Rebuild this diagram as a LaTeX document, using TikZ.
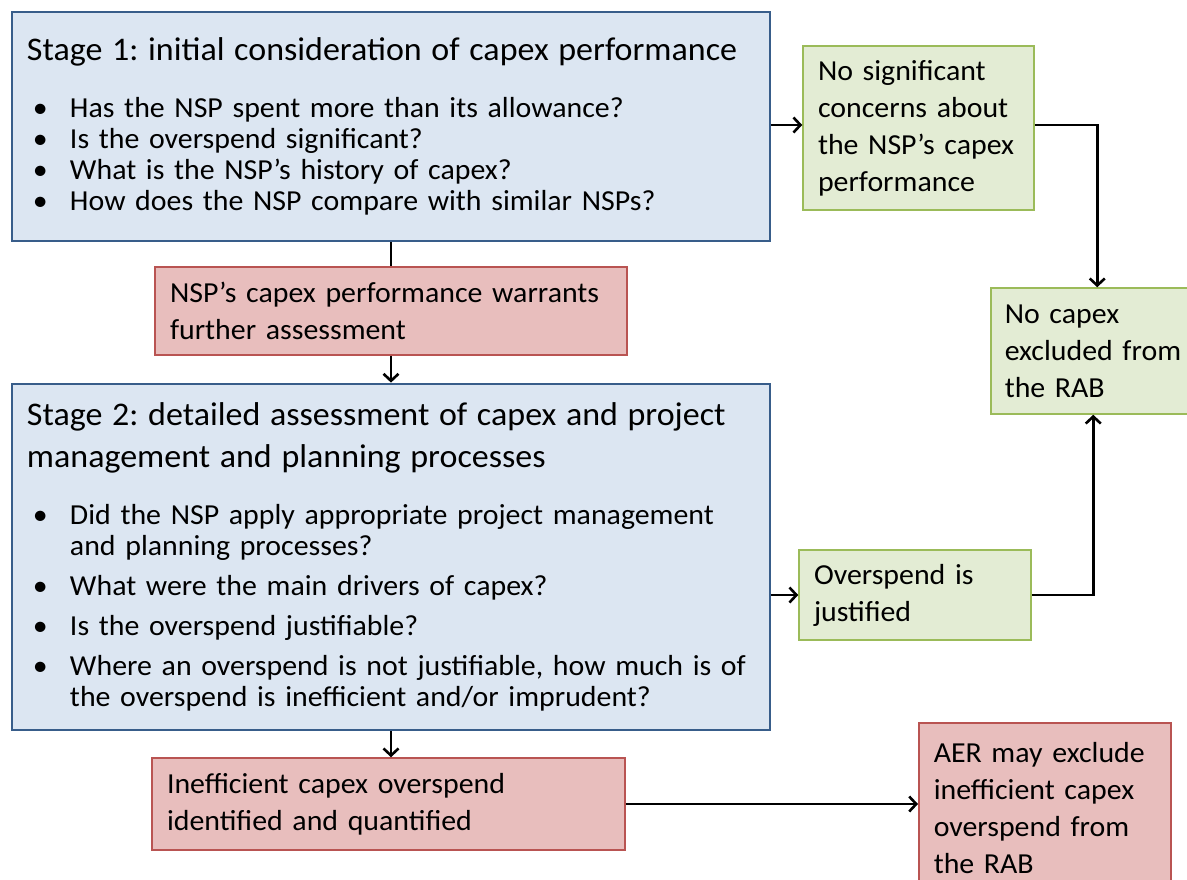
\documentclass[tikz,border=0pt]{standalone}
\usepackage{fontspec}
\setmainfont{Carlito}[FakeStretch=1.03]
\usepackage{enumitem}
\usetikzlibrary{arrows.meta, positioning}
\definecolor{stagefill}{RGB}{220,230,242}
\definecolor{stageline}{RGB}{56,93,138}
\definecolor{okfill}{RGB}{227,236,212}
\definecolor{okline}{RGB}{155,187,89}
\definecolor{badfill}{RGB}{232,190,189}
\definecolor{badline}{RGB}{185,84,82}
\newcommand{\bulletlist}[1]{\begin{itemize}[leftmargin=43pt, labelwidth=37pt, labelsep=0pt, align=left, topsep=0pt, partopsep=0pt, parsep=0pt, #1]}
\frenchspacing

\begin{document}
\begin{tikzpicture}[x=1pt,y=-1pt]
		\tikzstyle{Stage} = [rectangle, draw=stageline, fill=stagefill, line width=2.8pt, inner xsep=15pt, inner ysep=0pt, text width=728pt, align=left, font=\fontsize{29}{31}\selectfont]
		\tikzstyle{Ok} = [rectangle, draw=okline, fill=okfill, line width=1.5pt, inner xsep=15pt, inner ysep=0pt, align=left, font=\fontsize{29}{37}\selectfont]
		\tikzstyle{Bad} = [rectangle, draw=badline, fill=badfill, line width=1.5pt, inner xsep=15pt, inner ysep=0pt, align=left, font=\fontsize{29}{37}\selectfont]
		\tikzstyle{arrow} = [line width=2.8pt, -{Straight Barb[length=7pt, width=15pt, line width=2.6pt]}]
		\tikzstyle{line} = [line width=2.8pt]
		
		\useasboundingbox (0,0) rectangle (1187,879);
		%\draw[step=50,gray,very thin] (0,0) grid (1187,879);
		
		\node (stageOne) [Stage, minimum height=229pt] at (391,126.5) {%
			{\fontsize{33}{42}\selectfont Stage 1: initial consideration of capex performance\par}\vspace{26pt}
			\bulletlist{itemsep=0pt}
			\item Has the NSP spent more than its allowance?
			\item Is the overspend significant?
			\item What is the NSP’s history of capex?
			\item How does the NSP compare with similar NSPs?
			\end{itemize}};
		\node (stageTwo) [Stage, minimum height=346pt] at (391,557) {%
			{\fontsize{33}{42}\selectfont Stage 2: detailed assessment of capex and project\\ management and planning processes\par}\vspace{26pt}
			\bulletlist{itemsep=9pt}
			\item Did the NSP apply appropriate project management\newline and planning processes?
			\item What were the main drivers of capex?
			\item Is the overspend justifiable?
			\item Where an overspend is not justifiable, how much is of\newline the overspend is inefficient and/or imprudent?
			\end{itemize}};
		\node (noConcern) [Ok, text width=201pt, minimum height=164pt] at (918.5,128) {No significant\\ concerns about\\ the NSP’s capex\\ performance};
		\node (noCapex) [Ok, text width=185pt, inner xsep=14pt, minimum height=126pt, anchor=west] at (990,351) {No capex\\ excluded from\\ the RAB};
		\node (justified) [Ok, text width=202pt, minimum height=90pt] at (915,595) {Overspend is\\ justified};
		\node (warrants) [Bad, text width=442pt, minimum height=88pt] at (391,311) {NSP’s capex performance warrants\\ further assessment};
		\node (inefficient) [Bad, text width=443pt, minimum height=92pt] at (388.5,804) {Inefficient capex overspend\\ identified and quantified};
		\node (exclude) [Bad, text width=222pt, minimum height=170pt, inner ysep=0pt, anchor=north west] at (918,722) {AER may exclude\\ inefficient capex\\ overspend from\\ the RAB};
		
		\draw [arrow] (stageOne.east |- 0,125) -- (noConcern.west |- 0,125);
		\draw [arrow] (noConcern.east |- 0,125) -| (noCapex.north);
		\draw [line] (stageOne.south) -- (warrants.north);
		\draw [arrow] (warrants.south) -- (stageTwo.north);
		\draw [arrow] (stageTwo.east |- justified.west) -- (justified.west);
		\draw [arrow] (justified.east) -| ([xshift=-4pt]noCapex.south);
		\draw [arrow] (stageTwo.south) -- (stageTwo.south |- inefficient.north);
		\draw [arrow] (inefficient.east) -- (inefficient.east -| exclude.west);
\end{tikzpicture}
\end{document}
